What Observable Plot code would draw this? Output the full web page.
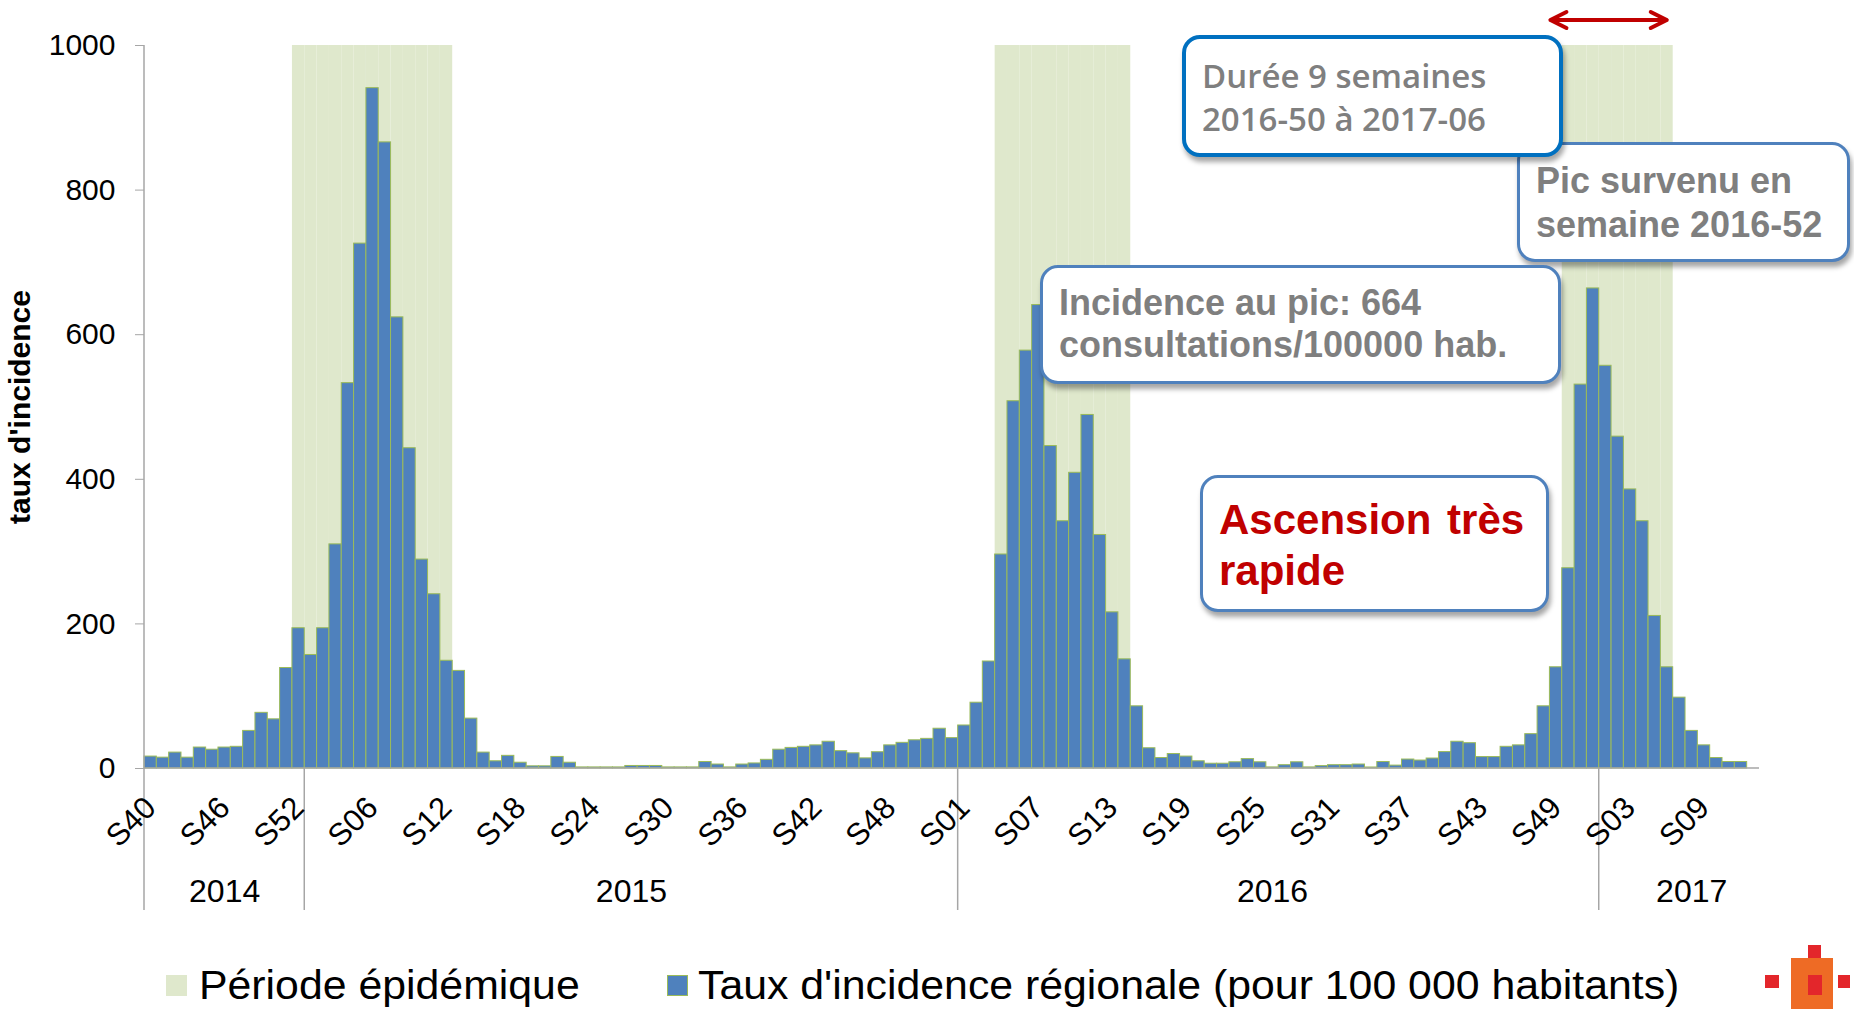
<!DOCTYPE html>
<html>
<head>
<meta charset="utf-8">
<script src="https://cdn.jsdelivr.net/npm/d3@7"></script>
<script src="https://cdn.jsdelivr.net/npm/@observablehq/plot@0.6"></script>
<style>
  body { margin: 0; background: #fff; }
  #wrap { position: relative; width: 1854px; height: 1009px; overflow: hidden;
          font-family: "Liberation Sans", Arial, sans-serif; background: #fff; }
  #chart { position: absolute; left: 0; top: 0; }
  .box { position: absolute; background: #fff; border: 3.5px solid #4F81BD; border-radius: 18px;
         box-shadow: 2px 5px 5px rgba(0,0,0,0.35); box-sizing: border-box; color: #7F7F7F;
         font-weight: bold; white-space: nowrap; }
  .legend { position: absolute; top: 960px; height: 50px; line-height: 50px; font-size: 40px; color: #000;
            white-space: nowrap; transform: scaleX(1.07); transform-origin: left center; }
  .sw { position: absolute; top: 975px; width: 21px; height: 21px; box-sizing: border-box; }
  .logo { position: absolute; }
</style>
</head>
<body>
<div id="wrap">
  <div id="chart"></div>

  <div class="box" style="left:1517px;top:142px;width:333px;height:120px;padding:14px 0 0 16px;font-size:36px;line-height:44px;">Pic survenu en<br>semaine 2016-52</div>
  <div class="box" style="left:1182px;top:35px;width:381px;height:122px;padding:15px 0 0 16px;border:4px solid #0070C0;font-family:'Open Sans',sans-serif;font-weight:600;font-size:33px;line-height:43px;">Durée 9 semaines<br>2016-50 à 2017-06</div>
  <div class="box" style="left:1040px;top:265px;width:521px;height:119px;padding:14px 0 0 16px;font-size:36px;line-height:42px;">Incidence au pic: 664<br>consultations/100000 hab.</div>
  <div class="box" style="left:1200px;top:475px;width:349px;height:137px;padding:16px 0 0 16px;font-size:42px;line-height:51px;color:#C00000;word-spacing:4px;">Ascension très<br>rapide</div>

  <div class="sw" style="left:166px;background:#DFE8CC;"></div>
  <div class="legend" style="left:199px;">Période épidémique</div>
  <div class="sw" style="left:667px;background:#4F81BD;border:1px solid #9BBB59;"></div>
  <div class="legend" style="left:698px;">Taux d'incidence régionale (pour 100 000 habitants)</div>

  <div class="logo" style="left:1808px;top:945px;width:13px;height:13px;background:#E3262B;"></div>
  <div class="logo" style="left:1791px;top:958px;width:42px;height:51px;background:#EE6B25;"></div>
  <div class="logo" style="left:1808px;top:975px;width:14px;height:20px;background:#E3262B;"></div>
  <div class="logo" style="left:1765px;top:975px;width:14px;height:13px;background:#E3262B;"></div>
  <div class="logo" style="left:1838px;top:975px;width:12px;height:13px;background:#E3262B;"></div>
</div>

<script>
// ---- Data ----
const yearList  = [2014, 2015, 2016, 2017];
const firstWeek = [40, 1, 1, 1];
const lastWeek  = [52, 53, 52, 13];

const taux2014 = [16.5, 15, 22, 15, 29, 26, 29, 30, 52, 77, 68, 139, 194];
const taux2015 = [157, 194, 310, 533, 726, 941, 866, 624, 443, 289, 241, 149, 135, 69, 22,
                  10, 17.5, 8, 3, 3, 16, 8, 1.5, 1.5, 1.5, 1.5, 3.5, 3.5, 3.5, 1.5, 1.5, 1.5,
                  9, 5.5, 1.5, 5.5, 7, 12, 26, 28.5, 30, 32, 37, 24, 21, 14, 22.5, 32, 35.5, 39, 41, 55, 42];
const taux2016 = [59.5, 91, 148, 296, 508, 578, 641, 446, 342, 409, 489, 323, 216, 151, 86,
                  28, 14.5, 20, 16.5, 10, 6.6, 6.6, 8.6, 13, 8.6, 1.5, 4.6, 8.6, 1.5, 3.3, 4.6, 4.6,
                  5.5, 1.4, 9, 4, 12.4, 11, 13.8, 22.7, 37, 35, 15.8, 15.8, 30, 32, 47.5, 86, 140, 277, 531, 664];
const taux2017 = [557, 459, 386, 342, 211, 140, 98, 52, 32, 14.5, 9, 9];
const tauxByYear = [taux2014, taux2015, taux2016, taux2017];

const epiStart = ["2014-S52", "2016-S04", "2016-S50"];
const epiEnd   = ["2015-S12", "2016-S14", "2017-S06"];

const yTicks = [0, 200, 400, 600, 800, 1000];
const yTitle = "taux d'incidence";
const yearLabelKeys = ["2014-S46", "2015-S27", "2016-S26", "2017-S08"];
const tickEvery = 6;

// ---- Build table ----
const pad = w => String(w).padStart(2, "0");
const rows = [];
yearList.forEach((yr, j) => {
  for (let w = firstWeek[j]; w <= lastWeek[j]; w++) {
    const v = tauxByYear[j][w - firstWeek[j]];
    rows.push({key: `${yr}-S${pad(w)}`, label: `S${pad(w)}`, year: yr, value: v === undefined ? null : v});
  }
});
const keys = rows.map(d => d.key);
const idx = new Map(keys.map((k, i) => [k, i]));
const labelOf = new Map(rows.map(d => [d.key, d.label]));
const tickKeys = keys.filter((k, i) => i % tickEvery === 0);
const shade = rows.filter(d => epiStart.some((s, j) => idx.get(d.key) >= idx.get(s) && idx.get(d.key) <= idx.get(epiEnd[j])));
const yearStarts = yearList.map(yr => rows.find(d => d.year === yr).key);
const yearLabels = yearList.map((yr, j) => ({year: String(yr), key: yearLabelKeys[j]}));
const yMax = yTicks[yTicks.length - 1];

const axisGray = "#A6A6A6";

function framework(index, scales) {
  const x = scales.x, y = scales.y;
  const bw = x.bandwidth ? x.bandwidth() : (x(keys[1]) - x(keys[0]));
  const g = d3.create("svg:g");
  const x0 = x(keys[0]), x1 = x(keys[keys.length - 1]) + bw, y0 = y(0);
  g.append("line").attr("x1", x0).attr("x2", x1).attr("y1", y0).attr("y2", y0)
    .attr("stroke", axisGray).attr("stroke-width", 1.5);
  g.append("line").attr("x1", x0).attr("x2", x0).attr("y1", y(0)).attr("y2", y(yMax))
    .attr("stroke", axisGray).attr("stroke-width", 1.5);
  for (const k of yearStarts) {
    g.append("line").attr("x1", x(k)).attr("x2", x(k)).attr("y1", y0).attr("y2", y0 + 142)
      .attr("stroke", axisGray).attr("stroke-width", 1.5);
  }
  // double arrow over last epidemic period
  const ax0 = x(epiStart[2]) - bw, ax1 = x(epiEnd[2]) + bw * 0.6, ay = y(yMax) - 25;
  const a = g.append("g").attr("stroke", "#C00000").attr("stroke-width", 4)
    .attr("fill", "none").attr("stroke-linecap", "round").attr("stroke-linejoin", "round");
  a.append("line").attr("x1", ax0 + 2).attr("x2", ax1 - 2).attr("y1", ay).attr("y2", ay);
  a.append("path").attr("d", `M${ax0 + 17},${ay - 8}L${ax0 + 1},${ay}L${ax0 + 17},${ay + 8}`);
  a.append("path").attr("d", `M${ax1 - 17},${ay - 8}L${ax1 - 1},${ay}L${ax1 - 17},${ay + 8}`);
  return g.node();
}

const chart = Plot.plot({
  width: 1854,
  height: 940,
  marginLeft: 144,
  marginRight: 95,
  marginTop: 45,
  marginBottom: 172,
  style: {fontFamily: '"Liberation Sans", Arial, sans-serif', fontSize: "30px", color: "#000", background: "transparent", overflow: "visible"},
  x: {type: "band", domain: keys, padding: 0, axis: null},
  y: {domain: [0, yMax], axis: null},
  marks: [
    Plot.barY(shade, {x: "key", y1: 0, y2: yMax, fill: "#DFE8CC"}),
    Plot.barY(rows.filter(d => d.value != null), {x: "key", y: "value", fill: "#4F81BD", stroke: "#9BBB59", strokeWidth: 1}),
    framework,
    Plot.axisY({ticks: yTicks, tickFormat: d => String(d), tickSize: 9, tickPadding: 20, stroke: axisGray, label: null, fontSize: 30}),
    Plot.axisX({ticks: tickKeys, tickFormat: k => labelOf.get(k), tickRotate: -45, tickSize: 0, tickPadding: 34, label: null, fontSize: 31}),
    Plot.text(yearLabels, {x: "key", text: "year", frameAnchor: "bottom", lineAnchor: "middle", dy: 123, fontSize: 32}),
    Plot.text([yTitle], {text: d => d, frameAnchor: "left", textAnchor: "middle", lineAnchor: "middle", dx: -124, rotate: -90, fontWeight: "bold", fontSize: 30})
  ]
});
document.getElementById("chart").appendChild(chart);
</script>
</body>
</html>
